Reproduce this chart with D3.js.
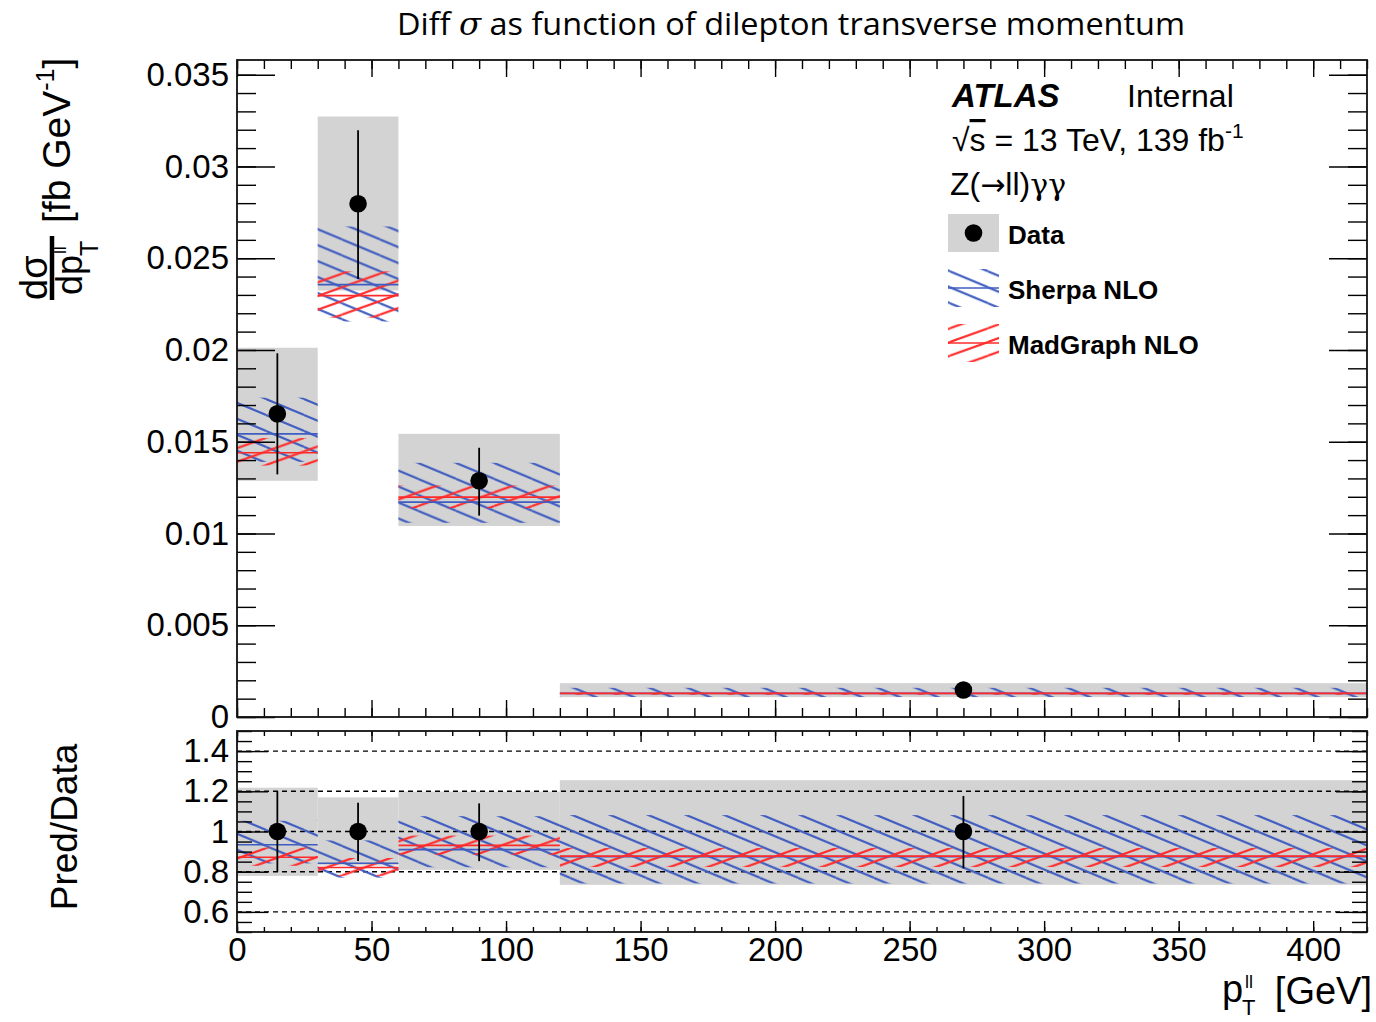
<!DOCTYPE html>
<html><head><meta charset="utf-8">
<script src="https://cdn.jsdelivr.net/npm/d3@7"></script>
<style>
body{margin:0;background:#fff}
svg{display:block}
text{font-family:"Liberation Sans",Arial,Helvetica,sans-serif;fill:#000}
</style>
</head><body>
<svg id="c" width="1376" height="1022"></svg>
<script>
// ---------------- data ----------------
const binEdges      = [0, 30, 60, 120, 420];
const dataValues    = [0.01652, 0.02797, 0.01287, 0.00147];
const dataErrUp     = [0.0033, 0.0040, 0.0018, 0.00026];
const dataErrDown   = [0.0033, 0.0041, 0.0019, 0.00027];
const totErrUp      = [0.0036, 0.00475, 0.00256, 0.000375];
const totErrDown    = [0.00365, 0.00473, 0.00246, 0.00039];
const sherpaCentral = [0.01543, 0.02356, 0.01171, 0.001286];
const sherpaLow     = [0.0139, 0.02155, 0.01058, 0.00109];
const sherpaHigh    = [0.0174, 0.02673, 0.01385, 0.00159];
const mgCentral     = [0.0144, 0.02296, 0.01198, 0.00129];
const mgLow         = [0.0137, 0.02176, 0.01138, 0.00121];
const mgHigh        = [0.0152, 0.02428, 0.01261, 0.00135];

const xTickValues     = [0, 50, 100, 150, 200, 250, 300, 350, 400];
const xTickLabels     = ["0","50","100","150","200","250","300","350","400"];
const yMainTicks      = [0, 0.005, 0.01, 0.015, 0.02, 0.025, 0.03, 0.035];
const yMainTickLabels = ["0","0.005","0.01","0.015","0.02","0.025","0.03","0.035"];
const yRatioTicks     = [0.6, 0.8, 1, 1.2, 1.4];
const yRatioLabels    = ["0.6","0.8","1","1.2","1.4"];
const refLines        = [0.6, 0.8, 1.0, 1.2, 1.4];

// ---------------- layout ----------------
const L = 237, R = 1367;
const mainTop = 60, mainBot = 717;
const ratTop = 731, ratBot = 932;
const GRAY = "#d3d3d3", BLUE = "#3f5cc0", RED = "#ff2b2b";

const svg = d3.select("#c");
const defs = svg.append("defs");

const x = d3.scaleLinear().domain([0, 420]).range([L, R]);
const yM = d3.scaleLinear().domain([0, 0.0358]).range([mainBot, mainTop]);
const yR = d3.scaleLinear().domain([0.5, 1.5]).range([ratBot, ratTop]);

// hatch patterns
function makePattern(id, color, slope, W, dir) {
  const H = W * slope;
  const p = defs.append("pattern").attr("id", id)
    .attr("patternUnits", "userSpaceOnUse").attr("width", W).attr("height", H);
  [-1, 0, 1].forEach(k => {
    const ln = p.append("line").attr("stroke", color).attr("stroke-width", 2.1);
    if (dir > 0) ln.attr("x1", 0).attr("y1", k * H).attr("x2", W).attr("y2", (k + 1) * H);
    else ln.attr("x1", 0).attr("y1", (k + 1) * H).attr("x2", W).attr("y2", k * H);
  });
}
makePattern("hSherpa", BLUE, 0.42, 38, 1);
makePattern("hMG", RED, 0.36, 38, -1);

defs.append("clipPath").attr("id", "clipMain").append("rect")
  .attr("x", L).attr("y", mainTop).attr("width", R - L).attr("height", mainBot - mainTop);
defs.append("clipPath").attr("id", "clipRat").append("rect")
  .attr("x", L).attr("y", ratTop).attr("width", R - L).attr("height", ratBot - ratTop);

const bins = d3.range(dataValues.length);

function drawPanel(g, y, val, eu, ed, tu, td, sc, sl, sh, mc, ml, mh, withRef) {
  g.selectAll("rect.tot").data(bins).join("rect").attr("class", "tot")
    .attr("x", i => x(binEdges[i])).attr("width", i => x(binEdges[i + 1]) - x(binEdges[i]))
    .attr("y", i => y(val[i] + tu[i])).attr("height", i => y(val[i] - td[i]) - y(val[i] + tu[i]))
    .attr("fill", GRAY);
  if (withRef) {
    g.selectAll("line.ref").data(refLines).join("line").attr("class", "ref")
      .attr("x1", L).attr("x2", R).attr("y1", d => y(d)).attr("y2", d => y(d))
      .attr("stroke", "#000").attr("stroke-width", 1.4).attr("stroke-dasharray", "5,4");
  }
  g.selectAll("rect.sh").data(bins).join("rect").attr("class", "sh")
    .attr("x", i => x(binEdges[i])).attr("width", i => x(binEdges[i + 1]) - x(binEdges[i]))
    .attr("y", i => y(sh[i])).attr("height", i => y(sl[i]) - y(sh[i]))
    .attr("fill", "url(#hSherpa)");
  g.selectAll("rect.mg").data(bins).join("rect").attr("class", "mg")
    .attr("x", i => x(binEdges[i])).attr("width", i => x(binEdges[i + 1]) - x(binEdges[i]))
    .attr("y", i => y(mh[i])).attr("height", i => y(ml[i]) - y(mh[i]))
    .attr("fill", "url(#hMG)");
  g.selectAll("line.sc").data(bins).join("line").attr("class", "sc")
    .attr("x1", i => x(binEdges[i])).attr("x2", i => x(binEdges[i + 1]))
    .attr("y1", i => y(sc[i])).attr("y2", i => y(sc[i]))
    .attr("stroke", BLUE).attr("stroke-width", 1.6);
  g.selectAll("line.mc").data(bins).join("line").attr("class", "mc")
    .attr("x1", i => x(binEdges[i])).attr("x2", i => x(binEdges[i + 1]))
    .attr("y1", i => y(mc[i])).attr("y2", i => y(mc[i]))
    .attr("stroke", RED).attr("stroke-width", 1.6);
  const cx = i => x((binEdges[i] + binEdges[i + 1]) / 2);
  g.selectAll("line.err").data(bins).join("line").attr("class", "err")
    .attr("x1", cx).attr("x2", cx)
    .attr("y1", i => y(val[i] + eu[i])).attr("y2", i => y(val[i] - ed[i]))
    .attr("stroke", "#000").attr("stroke-width", 1.8);
  g.selectAll("circle.pt").data(bins).join("circle").attr("class", "pt")
    .attr("cx", cx).attr("cy", i => y(val[i])).attr("r", 8.8).attr("fill", "#000");
}

const gMain = svg.append("g").attr("clip-path", "url(#clipMain)");
drawPanel(gMain, yM, dataValues, dataErrUp, dataErrDown, totErrUp, totErrDown,
  sherpaCentral, sherpaLow, sherpaHigh, mgCentral, mgLow, mgHigh, false);

const rel = (arr) => arr.map((v, i) => v / dataValues[i]);
const ones = dataValues.map(() => 1);
const gRat = svg.append("g").attr("clip-path", "url(#clipRat)");
drawPanel(gRat, yR, ones, rel(dataErrUp), rel(dataErrDown), rel(totErrUp), rel(totErrDown),
  rel(sherpaCentral), rel(sherpaLow), rel(sherpaHigh), rel(mgCentral), rel(mgLow), rel(mgHigh), true);

// ---------------- axes ----------------
function styleAxis(sel, fs) {
  sel.select(".domain").remove();
  sel.selectAll(".tick line").attr("stroke", "#000").attr("stroke-width", 1.4);
  sel.selectAll(".tick text").attr("font-size", fs).attr("fill", "#000")
    .style("font-family", '"Liberation Sans",Arial,sans-serif');
}
function axis(gen, tx, ty, fs) {
  const g = svg.append("g").attr("transform", `translate(${tx},${ty})`).call(gen);
  styleAxis(g, fs || 33);
  return g;
}
const xMinor = d3.range(0, 421, 10);
const yMainMinor = d3.range(0, 0.0355, 0.001);
const yRatMinor = d3.range(0.5, 1.5001, 0.05);

axis(d3.axisBottom(x).tickValues(xTickValues).tickSize(-17).tickFormat(""), 0, mainBot);
axis(d3.axisBottom(x).tickValues(xMinor).tickSize(-9).tickFormat(""), 0, mainBot);
axis(d3.axisTop(x).tickValues(xTickValues).tickSize(-17).tickFormat(""), 0, mainTop);
axis(d3.axisTop(x).tickValues(xMinor).tickSize(-9).tickFormat(""), 0, mainTop);
axis(d3.axisLeft(yM).tickValues(yMainTicks).tickSize(-38).tickPadding(8)
  .tickFormat((d, i) => yMainTickLabels[i]), L, 0);
axis(d3.axisLeft(yM).tickValues(yMainMinor).tickSize(-19).tickFormat(""), L, 0);
axis(d3.axisRight(yM).tickValues(yMainTicks).tickSize(-38).tickFormat(""), R, 0);
axis(d3.axisRight(yM).tickValues(yMainMinor).tickSize(-19).tickFormat(""), R, 0);

axis(d3.axisBottom(x).tickValues(xTickValues).tickSize(-11).tickPadding(6)
  .tickFormat((d, i) => xTickLabels[i]), 0, ratBot);
axis(d3.axisBottom(x).tickValues(xMinor).tickSize(-5).tickFormat(""), 0, ratBot);
axis(d3.axisTop(x).tickValues(xTickValues).tickSize(-11).tickFormat(""), 0, ratTop);
axis(d3.axisTop(x).tickValues(xMinor).tickSize(-5).tickFormat(""), 0, ratTop);
axis(d3.axisLeft(yR).tickValues(yRatioTicks).tickSize(-31).tickPadding(8)
  .tickFormat((d, i) => yRatioLabels[i]), L, 0);
axis(d3.axisLeft(yR).tickValues(yRatMinor).tickSize(-15).tickFormat(""), L, 0);
axis(d3.axisRight(yR).tickValues(yRatioTicks).tickSize(-31).tickFormat(""), R, 0);
axis(d3.axisRight(yR).tickValues(yRatMinor).tickSize(-15).tickFormat(""), R, 0);

[[mainTop, mainBot], [ratTop, ratBot]].forEach(([t, b]) => {
  svg.append("rect").attr("x", L).attr("y", t).attr("width", R - L).attr("height", b - t)
    .attr("fill", "none").attr("stroke", "#111").attr("stroke-width", 1.8);
});

// ---------------- texts ----------------
const title = svg.append("text").attr("x", 791).attr("y", 35).attr("text-anchor", "middle")
  .attr("font-size", 31).style("font-family", '"Open Sans",sans-serif')
  .attr("textLength", 788).attr("lengthAdjust", "spacingAndGlyphs");
title.append("tspan").text("Diff ");
title.append("tspan").text("σ").style("font-style", "italic").style("font-family", '"DejaVu Serif",serif');
title.append("tspan").text(" as function of dilepton transverse momentum");

// y title (main), rotated: screen x = local y, screen y = -local x
const yt = svg.append("g").attr("transform", "rotate(-90)");
yt.append("text").attr("x", -300).attr("y", 47).attr("font-size", 38).text("dσ");
yt.append("line").attr("x1", -300).attr("x2", -236).attr("y1", 52).attr("y2", 52)
  .attr("stroke", "#000").attr("stroke-width", 4.5);
yt.append("text").attr("x", -295).attr("y", 82).attr("font-size", 36).text("dp");
yt.append("text").attr("x", -256).attr("y", 98).attr("font-size", 25).text("T");
yt.append("text").attr("x", -254).attr("y", 66).attr("font-size", 17).text("ll");
const yt2 = yt.append("text").attr("x", -223).attr("y", 70).attr("font-size", 39);
yt2.append("tspan").text("[fb GeV");
yt2.append("tspan").attr("dy", -16).attr("font-size", 25).text("-1");
yt2.append("tspan").attr("dy", 16).text("]");

// ratio y title
svg.append("text").attr("transform", "translate(77,827) rotate(-90)")
  .attr("text-anchor", "middle").attr("font-size", 37).text("Pred/Data");

// x title
svg.append("text").attr("x", 1372).attr("y", 1004).attr("text-anchor", "end")
  .attr("font-size", 38).text("[GeV]");
svg.append("text").attr("x", 1222).attr("y", 1002).attr("font-size", 38).text("p");
svg.append("text").attr("x", 1242).attr("y", 1015).attr("font-size", 22).text("T");
svg.append("text").attr("x", 1245).attr("y", 988).attr("font-size", 18).text("ll");

// ATLAS labels
svg.append("text").attr("x", 952).attr("y", 107).attr("font-size", 33)
  .attr("font-weight", "bold").attr("font-style", "italic").text("ATLAS");
svg.append("text").attr("x", 1127).attr("y", 107).attr("font-size", 32).text("Internal");
const en = svg.append("text").attr("x", 952).attr("y", 151).attr("font-size", 32);
en.append("tspan").text("√");
en.append("tspan").text("s").style("text-decoration", "overline");
en.append("tspan").text(" = 13 TeV, 139 fb");
en.append("tspan").attr("dy", -13).attr("font-size", 21).text("-1");
const zt = svg.append("text").attr("x", 950).attr("y", 195).attr("font-size", 32);
zt.append("tspan").text("Z(");
zt.append("tspan").style("font-family", '"DejaVu Sans",sans-serif').attr("font-size", 30).text("→");
zt.append("tspan").text("ll)");
zt.append("tspan").style("font-family", '"DejaVu Serif",serif').attr("font-size", 30).text("γγ");

// legend
const legX = 948, legW = 51, legH = 38;
const legItems = [
  {label: "Data", y: 214, kind: "data"},
  {label: "Sherpa NLO", y: 269, kind: "sherpa"},
  {label: "MadGraph NLO", y: 324, kind: "mg"}
];
legItems.forEach(it => {
  const g = svg.append("g");
  if (it.kind === "data") {
    g.append("rect").attr("x", legX).attr("y", it.y).attr("width", legW).attr("height", legH).attr("fill", GRAY);
    g.append("circle").attr("cx", legX + legW / 2).attr("cy", it.y + legH / 2).attr("r", 8.8).attr("fill", "#000");
  } else {
    const pid = it.kind === "sherpa" ? "hSherpa" : "hMG";
    const col = it.kind === "sherpa" ? BLUE : RED;
    g.append("rect").attr("x", legX).attr("y", it.y).attr("width", legW).attr("height", legH).attr("fill", `url(#${pid})`);
    g.append("line").attr("x1", legX).attr("x2", legX + legW).attr("y1", it.y + legH / 2).attr("y2", it.y + legH / 2)
      .attr("stroke", col).attr("stroke-width", 1.5);
  }
  g.append("text").attr("x", 1008).attr("y", it.y + legH / 2 + 11).attr("font-size", 26)
    .attr("font-weight", "bold").text(it.label);
});
</script>
</body></html>
